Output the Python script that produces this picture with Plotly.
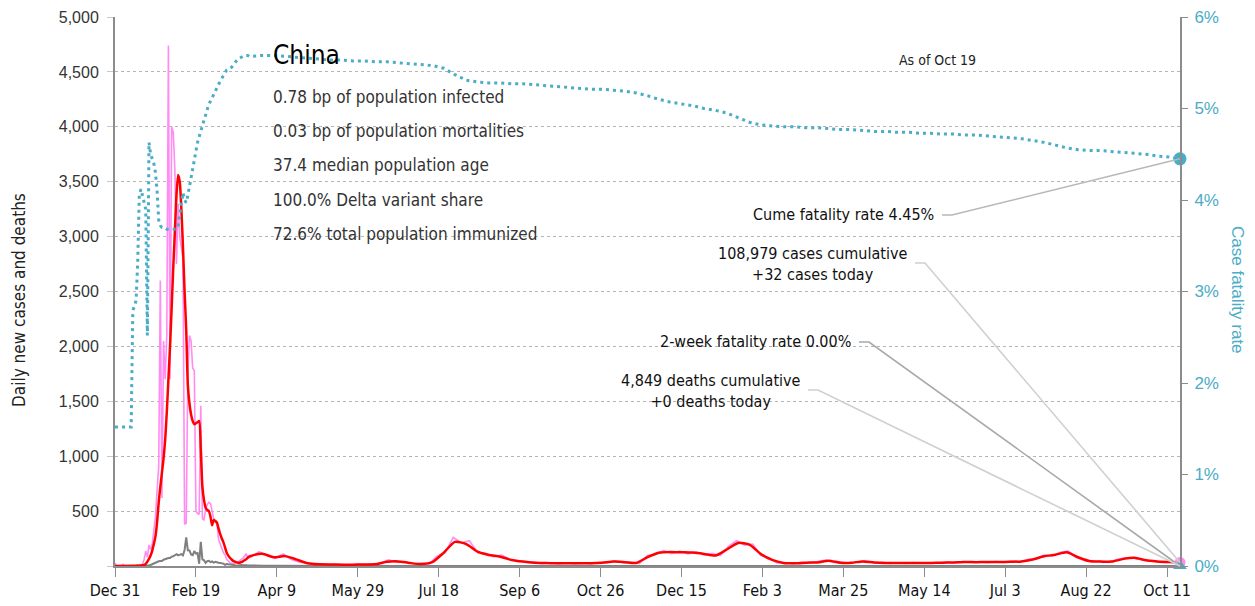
import pandas as pd
import plotly.graph_objects as go

# ---------------- DATA ----------------
START = pd.Timestamp("2019-12-31")

# Early period, daily (day 0 = Dec 31 2019 ... day 83)
early_cases = [27, 0, 0, 0, 0, 15, 0, 0, 0, 0,
               0, 0, 0, 0, 0, 0, 4, 17, 60, 136,
               80, 190, 150, 200, 330, 450, 690, 900, 2600, 620,
               2050, 1700, 2100, 4740, 1700, 4000, 3950, 3600, 2750, 3300,
               3000, 2900, 2800, 380, 390, 1750, 2100, 2050, 1800, 1780,
               500, 480, 470, 1460, 430, 420, 520, 560, 580, 570,
               500, 430, 400, 380, 240, 200, 170, 120, 100, 60,
               45, 30, 25, 20, 30, 40, 35, 50, 60, 70,
               90, 110, 80, 95]
early_avg = [0, 0, 0, 0, 0, 0, 0, 0, 0, 0,
             0, 0, 0, 1, 2, 3, 4, 6, 10, 20,
             40, 65, 95, 140, 200, 270, 400, 580, 720, 850,
             980, 1150, 1400, 1700, 2000, 2350, 2720, 3050, 3380, 3560,
             3500, 3250, 2900, 2500, 2150, 1650, 1480, 1380, 1320, 1290,
             1300, 1310, 1320, 1060, 720, 600, 530, 510, 500, 450,
             370, 420, 410, 395, 340, 290, 250, 215, 170, 120,
             94, 75, 60, 47, 40, 33, 30, 30, 35, 42,
             52, 62, 75, 85]
early_deaths = [0, 0, 0, 0, 0, 0, 0, 0, 0, 0,
                0, 1, 0, 0, 0, 0, 0, 0, 1, 1,
                3, 6, 9, 17, 25, 26, 38, 43, 46, 45,
                57, 64, 65, 73, 73, 86, 89, 97, 108, 97,
                103, 108, 97, 146, 260, 143, 142, 105, 98, 136,
                114, 118, 20, 220, 60, 52, 29, 44, 47, 35,
                42, 31, 38, 31, 30, 28, 27, 22, 11, 18,
                15, 14, 13, 11, 8, 3, 7, 6, 9, 7,
                4, 6, 5, 3]
early_cfr = [1.52, 1.52, 1.52, 1.52, 1.52, 1.52, 1.52, 1.52, 1.52, 1.52,
             1.52, 2.79, 2.85, 2.90, 3.30, 4.05, 4.12, 4.05, 3.95, 3.90,
             2.52, 4.63, 4.50, 4.45, 4.40, 4.30, 4.10, 3.78, 3.72, 3.70,
             3.70, 3.69, 3.68, 3.68, 3.68, 3.68, 3.68, 3.68, 3.68, 3.72,
             3.85, 4.00, 4.08, 4.00, 3.97, 4.05, 4.15, 4.25, 4.35, 4.45,
             4.55, 4.63, 4.69, 4.75, 4.82, 4.88, 4.95, 5.00, 5.05, 5.08,
             5.12, 5.16, 5.20, 5.24, 5.27, 5.30, 5.33, 5.36, 5.39, 5.42,
             5.43, 5.44, 5.45, 5.47, 5.50, 5.52, 5.54, 5.55, 5.56, 5.57,
             5.57, 5.58, 5.58, 5.57]

# Later period, weekly samples (day 84, 91, ..., 658)
weekly_days = list(range(84, 659, 7))
weekly_avg = [92, 112, 80, 90, 60, 25, 15, 14, 12, 12,
              14, 15, 38, 42, 28, 18, 35, 120, 220, 200,
              130, 100, 85, 55, 40, 30, 27, 25, 24, 24,
              25, 30, 40, 35, 28, 80, 120, 128, 125, 122,
              110, 95, 150, 210, 195, 110, 55, 28, 25, 30,
              33, 48, 30, 30, 42, 32, 28, 27, 28, 28,
              28, 30, 32, 36, 35, 36, 36, 38, 42, 60,
              88, 103, 125, 80, 45, 40, 40, 65, 75, 52,
              42, 36, 32]
weekly_deaths = [4, 3, 2, 2, 1, 1, 1, 0, 0, 0,
                 0, 0, 0, 0, 0, 0, 0, 0, 1, 1,
                 1, 1, 0, 0, 0, 0, 0, 0, 0, 0,
                 0, 0, 0, 0, 0, 0, 0, 0, 0, 0,
                 0, 0, 0, 1, 0, 0, 0, 0, 0, 0,
                 0, 0, 0, 0, 0, 0, 0, 0, 0, 0,
                 0, 0, 0, 0, 0, 0, 0, 0, 0, 0,
                 0, 0, 0, 0, 0, 0, 0, 0, 0, 0,
                 0, 0, 0]
weekly_cfr = [5.57, 5.58, 5.58, 5.57, 5.56, 5.55, 5.54, 5.53, 5.53, 5.52,
              5.52, 5.51, 5.51, 5.50, 5.49, 5.48, 5.47, 5.44, 5.37, 5.31,
              5.29, 5.28, 5.28, 5.27, 5.27, 5.26, 5.25, 5.24, 5.23, 5.22,
              5.21, 5.21, 5.20, 5.19, 5.17, 5.14, 5.10, 5.07, 5.05, 5.03,
              5.00, 4.98, 4.95, 4.90, 4.85, 4.82, 4.81, 4.80, 4.80, 4.79,
              4.79, 4.78, 4.77, 4.77, 4.76, 4.75, 4.75, 4.74, 4.74, 4.73,
              4.73, 4.72, 4.72, 4.71, 4.71, 4.70, 4.69, 4.68, 4.67, 4.65,
              4.63, 4.60, 4.57, 4.55, 4.54, 4.54, 4.53, 4.52, 4.51, 4.50,
              4.48, 4.47, 4.45]

# Later period raw daily cases, sampled every 5 days (day 84 ... 654, plus 658)
raw_days = list(range(84, 655, 5)) + [658]
raw_cases = [80, 130, 95, 70, 110, 60, 35, 30, 12, 20,
             10, 15, 8, 16, 12, 20, 28, 55, 35, 40,
             20, 22, 18, 90, 120, 260, 210, 230, 120, 115,
             85, 100, 55, 50, 32, 35, 22, 30, 21, 28,
             20, 27, 22, 32, 30, 48, 30, 35, 22, 95,
             105, 140, 115, 135, 110, 130, 100, 115, 95, 180,
             230, 190, 200, 95, 75, 28, 32, 20, 35, 26,
             40, 55, 33, 35, 25, 40, 50, 28, 33, 24,
             30, 24, 32, 25, 30, 26, 35, 28, 40, 32,
             38, 31, 40, 33, 42, 36, 60, 62, 100, 90,
             125, 135, 80, 50, 38, 45, 35, 60, 75, 70,
             55, 45, 38, 40, 30, 32]

tick_labels = ["Dec 31", "Feb 19", "Apr 9", "May 29", "Jul 18", "Sep 6", "Oct 26",
               "Dec 15", "Feb 3", "Mar 25", "May 14", "Jul 3", "Aug 22", "Oct 11"]
tick_days = [0, 50, 100, 150, 200, 250, 300, 350, 400, 450, 500, 550, 600, 650]
y2_ticks = [0, 1, 2, 3, 4, 5, 6]
y2_labels = ["0%", "1%", "2%", "3%", "4%", "5%", "6%"]

country = "China"
stats_lines = ["0.78 bp of population infected",
               "0.03 bp of population mortalities",
               "37.4 median population age",
               "100.0% Delta variant share",
               "72.6% total population immunized"]
as_of = "As of Oct 19"
cume_cfr = 4.45
cases_today = 32
deaths_today = 0
two_week_cfr = 0.0
label_cume = "Cume fatality rate 4.45%"
label_cases = "108,979 cases cumulative<br>+32 cases today"
label_2wk = "2-week fatality rate 0.00%"
label_deaths = "4,849 deaths cumulative<br>+0 deaths today"

# ---------------- BUILD ----------------
def to_dates(days):
    return [START + pd.Timedelta(days=d) for d in days]

early_dates = to_dates(range(len(early_cases)))
weekly_dates = to_dates(weekly_days)
raw_dates = to_dates(raw_days)
end_date = weekly_dates[-1]

COND = "DejaVu Sans Condensed, DejaVu Sans, sans-serif"
REG = "Liberation Sans, Arial, sans-serif"
TEAL = "#4bacc6"
PINK = "#ff8cf2"

YMAX = 5000
Y2MAX = 6

fig = go.Figure()

fig.add_trace(go.Scatter(x=early_dates + raw_dates, y=early_cases + raw_cases,
                         mode="lines", line=dict(color=PINK, width=1.6),
                         name="Daily cases", yaxis="y"))
fig.add_trace(go.Scatter(x=early_dates + weekly_dates, y=early_deaths + weekly_deaths,
                         mode="lines", line=dict(color="#7f7f7f", width=2),
                         name="Daily deaths", yaxis="y"))
fig.add_trace(go.Scatter(x=early_dates + weekly_dates, y=early_avg + weekly_avg,
                         mode="lines", line=dict(color="#ff0000", width=2.5, shape="spline", smoothing=0.6),
                         name="7-day avg", yaxis="y"))
fig.add_trace(go.Scatter(x=early_dates + weekly_dates, y=early_cfr + weekly_cfr,
                         mode="lines", line=dict(color=TEAL, width=3, dash="3px,4px"),
                         name="CFR", yaxis="y2"))

# end markers
fig.add_trace(go.Scatter(x=[end_date], y=[cases_today], mode="markers", yaxis="y",
                         marker=dict(color=PINK, size=11, symbol="circle"), cliponaxis=False))
fig.add_trace(go.Scatter(x=[end_date], y=[cume_cfr], mode="markers", yaxis="y2",
                         marker=dict(color=TEAL, size=13, symbol="circle"), cliponaxis=False))
fig.add_trace(go.Scatter(x=[end_date], y=[two_week_cfr], mode="markers", yaxis="y2",
                         marker=dict(color=TEAL, size=12, symbol="triangle-up"), cliponaxis=False))

ytick_vals = list(range(0, YMAX + 1, 500))
ytick_text = [""] + [f"{v:,}" for v in ytick_vals[1:]]

# the page adds an 8px body margin, so the figure sits 8px right/down
fig.update_layout(
    width=1255, height=606,
    margin=dict(l=107, r=83, t=9, b=48, autoexpand=False),
    paper_bgcolor="white", plot_bgcolor="white",
    showlegend=False,
    xaxis=dict(range=[START, end_date], tickvals=to_dates(tick_days), ticktext=tick_labels,
               showgrid=False, zeroline=False, showline=True, linecolor="#8c8c8c", linewidth=2,
               ticks="outside", ticklen=9, tickcolor="#8c8c8c", tickwidth=1, automargin=False,
               ticklabeloverflow="allow",
               tickfont=dict(family=COND, size=16, color="#111")),
    yaxis=dict(range=[0, YMAX], tickvals=ytick_vals, ticktext=ytick_text,
               showgrid=True, gridcolor="#b5b5b5", griddash="dot", gridwidth=1,
               zeroline=False, showline=True, linecolor="#8c8c8c", linewidth=2,
               ticks="outside", ticklen=6, tickcolor="#c8c8c8", automargin=False,
               ticklabelstandoff=5, ticklabeloverflow="allow",
               tickfont=dict(family=REG, size=16, color="#333")),
    yaxis2=dict(range=[0, Y2MAX], overlaying="y", side="right",
                tickvals=y2_ticks, ticktext=y2_labels,
                showgrid=False, zeroline=False, showline=True, linecolor="#8c8c8c", linewidth=2,
                ticks="outside", ticklen=6, tickcolor="#8c8c8c", automargin=False,
                ticklabelstandoff=3, ticklabeloverflow="allow",
                tickfont=dict(family=REG, size=17, color=TEAL)),
)

def px_x(px):
    return (px - 115) / 1065.0

def px_y(py):
    return (566 - py) / 549.0

ann = []
ann.append(dict(text="Daily new cases and deaths", xref="paper", yref="paper", x=px_x(19), y=px_y(300),
                xanchor="center", yanchor="middle",
                textangle=-90, showarrow=False, font=dict(family=COND, size=17, color="#222")))
ann.append(dict(text="Case fatality rate", xref="paper", yref="paper", x=px_x(1238), y=px_y(290),
                xanchor="center", yanchor="middle",
                textangle=90, showarrow=False, font=dict(family=REG, size=17, color=TEAL)))
ann.append(dict(text=country, xref="paper", yref="paper", x=px_x(271), y=px_y(55),
                xanchor="left", yanchor="middle", showarrow=False,
                font=dict(family=COND, size=26, color="#000")))
for i, line in enumerate(stats_lines):
    ann.append(dict(text=line, xref="paper", yref="paper", x=px_x(271), y=px_y(97 + 34.2 * i),
                    xanchor="left", yanchor="middle", showarrow=False,
                    font=dict(family=COND, size=17, color="#333")))
ann.append(dict(text=as_of, xref="paper", yref="paper", x=px_x(937), y=px_y(60),
                xanchor="center", yanchor="middle",
                showarrow=False, font=dict(family=COND, size=14, color="#222")))
ann.append(dict(text=label_cume, xref="paper", yref="paper", x=px_x(936), y=px_y(215),
                xanchor="right", yanchor="middle", showarrow=False,
                font=dict(family=COND, size=16, color="#111")))
ann.append(dict(text=label_cases, xref="paper", yref="paper", x=px_x(812), y=px_y(264),
                xanchor="center", yanchor="middle", align="center", showarrow=False,
                font=dict(family=COND, size=16, color="#111")))
ann.append(dict(text=label_2wk, xref="paper", yref="paper", x=px_x(853), y=px_y(342),
                xanchor="right", yanchor="middle", showarrow=False,
                font=dict(family=COND, size=16, color="#111")))
ann.append(dict(text=label_deaths, xref="paper", yref="paper", x=px_x(711), y=px_y(391),
                xanchor="center", yanchor="middle", align="center", showarrow=False,
                font=dict(family=COND, size=16, color="#111")))
fig.update_layout(annotations=ann)

# leader lines: tail near label, head at end value
def leader(tx, ty, head_y_paper, color):
    x0, y0 = px_x(tx), px_y(ty)
    x1 = px_x(tx + 10)
    path = f"M {x0},{y0} L {x1},{y0} L 1,{head_y_paper}"
    fig.add_shape(type="path", path=path, xref="paper", yref="paper",
                  line=dict(color=color, width=1.6), layer="above")

leader(942, 215, cume_cfr / Y2MAX, "#b8b8b8")
leader(915, 263, cases_today / YMAX, "#d0d0d0")
leader(859, 342, two_week_cfr / Y2MAX, "#a8a8a8")
leader(808, 390, deaths_today / YMAX, "#d0d0d0")

fig.write_html("out.html")
